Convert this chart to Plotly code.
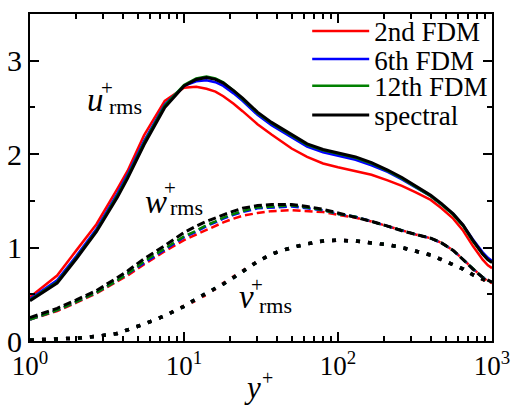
import plotly.graph_objects as go

# ---------------- data ----------------
yplus = [1, 1.5, 2, 2.7, 3.7, 4.3, 5.5, 7.5, 10, 12, 14, 16, 18, 21, 24, 30, 37, 50,
         63, 80, 100, 130, 165, 210, 260, 320, 400, 470, 560, 650, 750, 870, 940, 1000]

u_2nd = [0.47, 0.70, 0.97, 1.25, 1.63, 1.82, 2.20, 2.57, 2.71, 2.72, 2.70, 2.67, 2.62, 2.54,
         2.46, 2.32, 2.21, 2.06, 1.97, 1.90, 1.86, 1.82, 1.78, 1.72, 1.66, 1.59, 1.51, 1.42,
         1.31, 1.18, 1.02, 0.87, 0.81, 0.78]
u_6th = [0.45, 0.65, 0.91, 1.20, 1.58, 1.78, 2.14, 2.53, 2.73, 2.78, 2.79, 2.77, 2.73, 2.65,
         2.57, 2.42, 2.31, 2.18, 2.08, 2.02, 1.98, 1.94, 1.88, 1.81, 1.73, 1.64, 1.55, 1.46,
         1.36, 1.24, 1.09, 0.95, 0.89, 0.86]
u_12th = [0.44, 0.63, 0.89, 1.18, 1.56, 1.76, 2.12, 2.52, 2.74, 2.81, 2.83, 2.81, 2.77, 2.68,
          2.59, 2.44, 2.33, 2.20, 2.10, 2.04, 2.00, 1.96, 1.90, 1.82, 1.74, 1.65, 1.55, 1.46,
          1.35, 1.23, 1.07, 0.93, 0.87, 0.84]
u_spec = [0.43, 0.62, 0.88, 1.17, 1.54, 1.74, 2.10, 2.50, 2.73, 2.80, 2.82, 2.80, 2.76, 2.68,
          2.60, 2.45, 2.34, 2.21, 2.11, 2.05, 2.01, 1.97, 1.91, 1.83, 1.75, 1.66, 1.56, 1.47,
          1.36, 1.24, 1.08, 0.93, 0.87, 0.84]

w_2nd = [0.23, 0.32, 0.41, 0.51, 0.64, 0.70, 0.82, 0.96, 1.08, 1.14, 1.19, 1.23, 1.27, 1.31,
         1.34, 1.37, 1.39, 1.40, 1.39, 1.38, 1.35, 1.32, 1.28, 1.23, 1.18, 1.14, 1.10, 1.05,
         0.97, 0.87, 0.77, 0.68, 0.64, 0.62]
w_6th = [0.23, 0.33, 0.42, 0.52, 0.65, 0.72, 0.84, 0.98, 1.11, 1.17, 1.23, 1.27, 1.31, 1.35,
         1.38, 1.42, 1.43, 1.44, 1.42, 1.40, 1.36, 1.33, 1.28, 1.23, 1.18, 1.14, 1.10, 1.05,
         0.97, 0.87, 0.77, 0.68, 0.65, 0.63]
w_12th = [0.23, 0.33, 0.42, 0.52, 0.65, 0.72, 0.85, 0.99, 1.12, 1.18, 1.24, 1.28, 1.32, 1.36,
          1.39, 1.43, 1.44, 1.45, 1.43, 1.40, 1.36, 1.33, 1.28, 1.23, 1.18, 1.14, 1.10, 1.05,
          0.97, 0.87, 0.77, 0.68, 0.65, 0.63]
w_spec = [0.25, 0.35, 0.44, 0.54, 0.68, 0.75, 0.88, 1.02, 1.16, 1.23, 1.28, 1.32, 1.35, 1.39,
          1.42, 1.45, 1.46, 1.46, 1.44, 1.41, 1.37, 1.33, 1.28, 1.23, 1.18, 1.14, 1.10, 1.05,
          0.97, 0.87, 0.77, 0.68, 0.65, 0.63]

v_2nd = [0.01, 0.02, 0.03, 0.05, 0.08, 0.12, 0.18, 0.27, 0.37, 0.44, 0.50, 0.56, 0.61, 0.68,
         0.74, 0.85, 0.93, 1.00, 1.04, 1.07, 1.08, 1.07, 1.05, 1.03, 1.00, 0.96, 0.92, 0.87,
         0.82, 0.77, 0.71, 0.66, 0.63, 0.61]
v_6th = [0.01, 0.02, 0.03, 0.05, 0.08, 0.12, 0.18, 0.27, 0.37, 0.45, 0.51, 0.56, 0.61, 0.68,
         0.74, 0.85, 0.93, 1.00, 1.04, 1.07, 1.08, 1.07, 1.05, 1.03, 1.00, 0.96, 0.92, 0.87,
         0.82, 0.77, 0.71, 0.66, 0.64, 0.62]
v_12th = [0.01, 0.02, 0.03, 0.05, 0.08, 0.12, 0.18, 0.27, 0.37, 0.45, 0.51, 0.56, 0.61, 0.68,
          0.74, 0.85, 0.93, 1.00, 1.04, 1.07, 1.08, 1.07, 1.05, 1.03, 1.00, 0.96, 0.92, 0.87,
          0.82, 0.77, 0.71, 0.66, 0.64, 0.62]
v_spec = [0.01, 0.02, 0.03, 0.05, 0.08, 0.12, 0.18, 0.27, 0.37, 0.45, 0.51, 0.56, 0.61, 0.68,
          0.74, 0.85, 0.93, 1.00, 1.04, 1.07, 1.08, 1.07, 1.05, 1.03, 1.00, 0.96, 0.92, 0.87,
          0.82, 0.77, 0.71, 0.66, 0.64, 0.62]

methods = ["2nd FDM", "6th FDM", "12th FDM", "spectral"]
colors = ["#ff0000", "#0000ff", "#008000", "#000000"]
u_all = [u_2nd, u_6th, u_12th, u_spec]
w_all = [w_2nd, w_6th, w_12th, w_spec]
v_all = [v_2nd, v_6th, v_12th, v_spec]

xticks = [1, 10, 100, 1000]
xticktext = ["10<sup>0</sup>", "10<sup>1</sup>", "10<sup>2</sup>", "10<sup>3</sup>"]
yticks = [0, 1, 2, 3]

FONT = "Times New Roman"

legend_ids = ["legend", "legend2", "legend3", "legend4"]
legend_rows = [0.947, 0.861, 0.779, 0.690]

fig = go.Figure()
for i, name in enumerate(methods):
    lw = 3 if name == "spectral" else 2.5
    fig.add_trace(go.Scatter(x=yplus, y=u_all[i], mode="lines", name=name,
                             line=dict(color=colors[i], width=lw),
                             legend=legend_ids[i], legendgroup=name, showlegend=True))
for i, name in enumerate(methods):
    lw = 3 if name == "spectral" else 2.5
    fig.add_trace(go.Scatter(x=yplus, y=w_all[i], mode="lines", name=name,
                             line=dict(color=colors[i], width=lw, dash="8px,4px"),
                             legend=legend_ids[i], legendgroup=name, showlegend=False))
for i, name in enumerate(methods):
    fig.add_trace(go.Scatter(x=yplus, y=v_all[i], mode="lines", name=name,
                             line=dict(color=colors[i], width=3.5, dash="4px,8px"),
                             legend=legend_ids[i], legendgroup=name, showlegend=False))

minor_x = [k * d for d in (1, 10, 100) for k in range(2, 10)]

fig.update_xaxes(type="log", range=[0, 3], tickvals=xticks, ticktext=xticktext,
                 ticks="inside", ticklen=9, tickwidth=1.5, tickcolor="black",
                 showline=True, linecolor="black", linewidth=2, mirror="ticks",
                 showgrid=False, zeroline=False,
                 tickfont=dict(family=FONT, size=27, color="black"),
                 minor=dict(tickvals=minor_x, ticks="inside", ticklen=5,
                            tickwidth=1.5, tickcolor="black", showgrid=False))
fig.update_yaxes(range=[0, 3.5], tickvals=yticks,
                 ticks="inside", ticklen=9, tickwidth=1.5, tickcolor="black",
                 showline=True, linecolor="black", linewidth=2, mirror="ticks",
                 showgrid=False, zeroline=False,
                 tickfont=dict(family=FONT, size=30, color="black"),
                 minor=dict(tickvals=[0.5, 1.5, 2.5], ticks="inside", ticklen=5,
                            tickwidth=1.5, tickcolor="black", showgrid=False))

def lab(x, y, text, size, italic=False, ref="data"):
    t = f"<i>{text}</i>" if italic else text
    d = dict(x=x, y=y, text=t, showarrow=False, xanchor="center", yanchor="middle",
             font=dict(family=FONT, size=size, color="black"))
    if ref == "paper":
        d.update(xref="paper", yref="paper")
    else:
        d.update(xref="x", yref="y")
    return d

annotations = [
    lab(0.425, 2.58, "u", 33, True), lab(0.503, 2.71, "+", 21), lab(0.620, 2.515, "rms", 22),
    lab(0.815, 1.488, "w", 33, True), lab(0.912, 1.638, "+", 21), lab(1.016, 1.424, "rms", 22),
    lab(1.406, 0.471, "v", 33, True), lab(1.477, 0.599, "+", 21), lab(1.594, 0.385, "rms", 22),
    lab(0.4816, -0.141, "y", 31, True, "paper"), lab(0.514, -0.112, "+", 20, ref="paper"),
]

def legend_cfg(i):
    return dict(x=0.60, y=legend_rows[i], xanchor="left", yanchor="middle",
                bgcolor="rgba(0,0,0,0)", borderwidth=0, itemwidth=57,
                font=dict(family=FONT, size=27, color="black"))

fig.update_layout(
    width=519, height=405,
    margin=dict(l=30, r=27, t=14, b=64, autoexpand=False),
    paper_bgcolor="white", plot_bgcolor="white",
    font=dict(family=FONT, color="black"),
    showlegend=True,
    legend=legend_cfg(0), legend2=legend_cfg(1), legend3=legend_cfg(2), legend4=legend_cfg(3),
    annotations=annotations,
)

fig.write_html("out.html")
